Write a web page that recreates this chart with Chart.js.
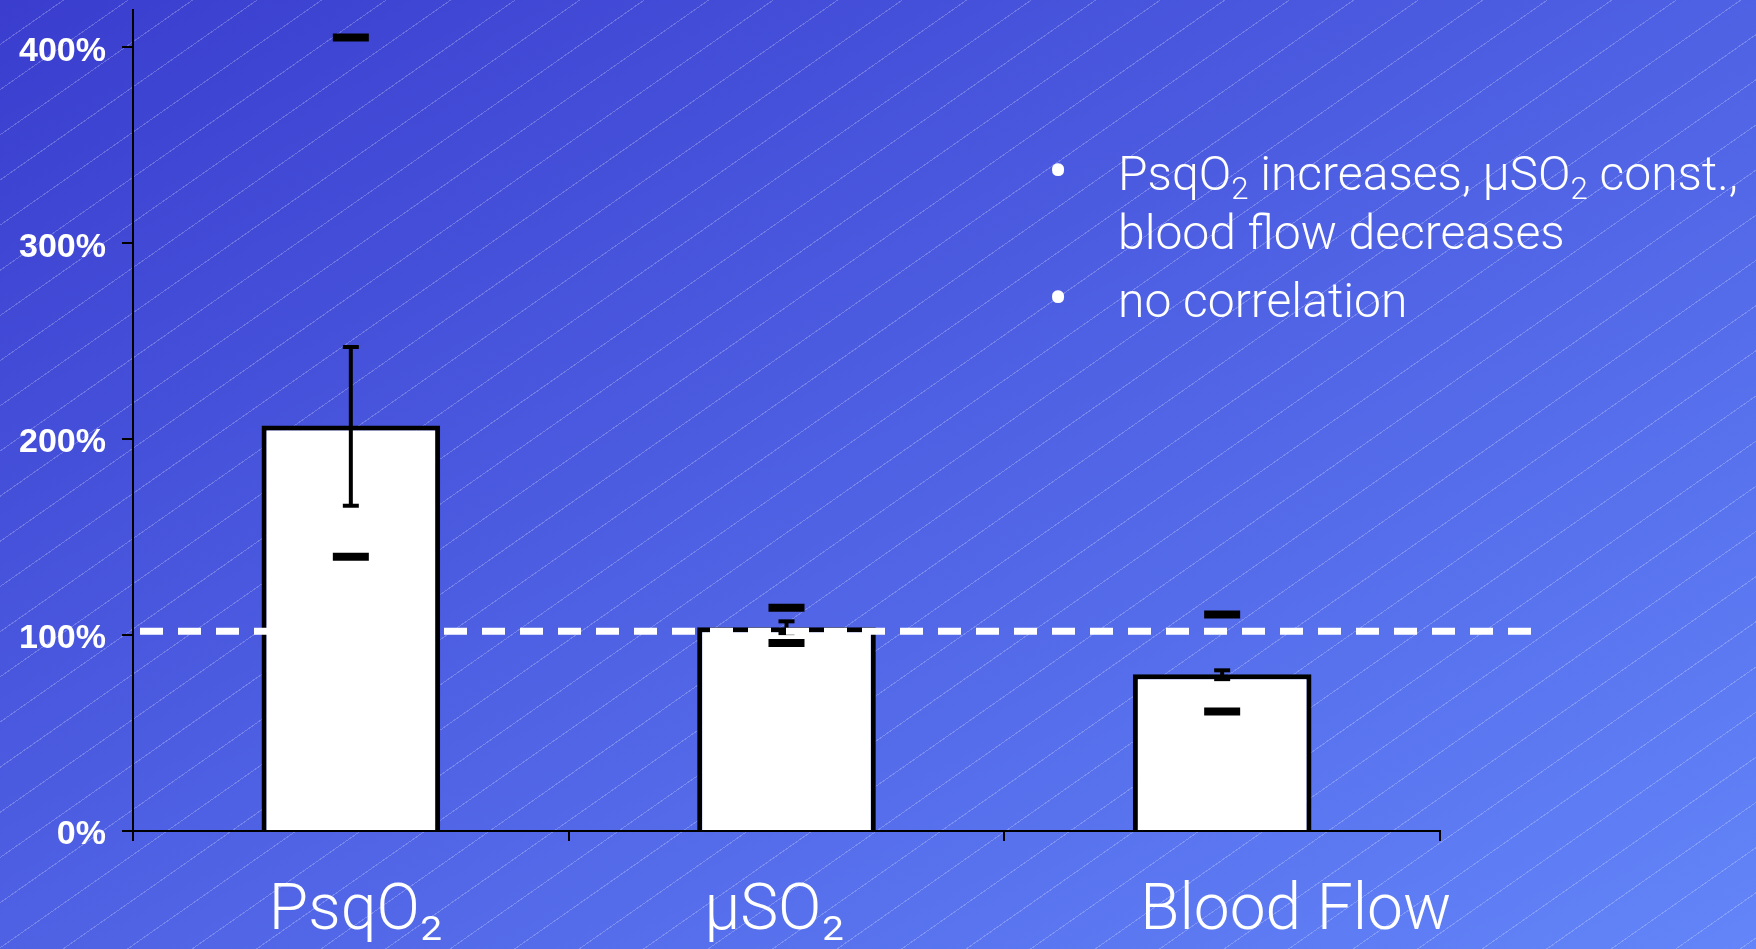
<!DOCTYPE html>
<html>
<head>
<meta charset="utf-8">
<script src="https://cdn.jsdelivr.net/npm/chart.js@4.4.1/dist/chart.umd.min.js"></script>
<style>
  html, body { margin: 0; padding: 0; }
  body {
    width: 1756px; height: 949px; overflow: hidden; position: relative;
    background:
      repeating-linear-gradient(145deg, rgba(255,255,255,0) 0px, rgba(255,255,255,0) 36px,
        rgba(255,255,255,0.22) 36px, rgba(255,255,255,0.22) 37px),
      linear-gradient(to bottom right, #3a3dce, #6385f9);
  }
  #chart { position: absolute; left: 0; top: 0; }
  #notes {
    position: absolute; left: 1118px; top: 144px;
    color: #fff; font-family: Roboto, "Liberation Sans", sans-serif; font-weight: 300;
    font-size: 48px; line-height: 59px; white-space: nowrap;
  }
  #notes .item { position: relative; }
  #notes .item + .item { margin-top: 9px; }
  #notes .dot { position: absolute; left: -70px; top: -2px; font-size: 60px; font-weight: 400; }
  #notes sub { font-size: 0.65em; vertical-align: -0.28em; line-height: 0; }
</style>
</head>
<body>
<canvas id="chart" width="1756" height="949"></canvas>
<div id="notes">
  <div class="item"><span class="dot">•</span>PsqO<sub>2</sub> increases, μSO<sub>2</sub> const.,<br>blood flow decreases</div>
  <div class="item"><span class="dot">•</span>no correlation</div>
</div>
<script>
// Werte (in % vom Ausgangswert)
var categories = ['PsqO₂', 'μSO₂', 'Blood Flow'];
var meanValues = [207, 104, 80];
var errLow = [166, 101, 77.5];
var errHigh = [247, 107, 82];
var upperMarks = [405, 114, 110.5];
var lowerMarks = [140, 96, 61];
var yTicks = [0, 100, 200, 300, 400];
var yMax = 419;
var refLine = 102;

var errRanges = errLow.map(function(v, i){ return [v, errHigh[i]]; });

// gestrichelte Referenzlinie bei ~100 %
var refLinePlugin = {
  id: 'refLine',
  afterDatasetsDraw: function(chart){
    var ctx = chart.ctx;
    var area = chart.chartArea;
    var y = chart.scales.y.getPixelForValue(refLine);
    ctx.save();
    ctx.strokeStyle = '#ffffff';
    ctx.lineWidth = 7;
    ctx.setLineDash([23, 15]);
    ctx.beginPath();
    ctx.moveTo(area.left + 7, y);
    ctx.lineTo(area.right + 106, y);
    ctx.stroke();
    ctx.restore();
  }
};

function markerSet(label, data, radius, width, order){
  return {
    type: 'line',
    label: label,
    data: data,
    showLine: false,
    pointStyle: 'line',
    pointRadius: radius,
    pointBorderWidth: width,
    pointBorderColor: '#000000',
    order: order
  };
}

new Chart(document.getElementById('chart'), {
  type: 'bar',
  data: {
    labels: categories,
    datasets: [{
      label: 'Mittelwert',
      data: meanValues,
      backgroundColor: '#ffffff',
      borderColor: '#000000',
      borderWidth: 5,
      grouped: false,
      categoryPercentage: 1,
      barPercentage: 0.41,
      order: 4
    }, {
      label: 'Fehler',
      data: errRanges,
      backgroundColor: '#000000',
      borderWidth: 0,
      grouped: false,
      categoryPercentage: 1,
      barPercentage: 0.41,
      maxBarThickness: 4,
      order: 3
    },
      markerSet('Fehler oben', errHigh, 8, 4, 2),
      markerSet('Fehler unten', errLow, 8, 4, 2),
      markerSet('Max', upperMarks, 18, 8, 1),
      markerSet('Min', lowerMarks, 18, 8, 1)
    ]
  },
  options: {
    responsive: false,
    animation: false,
    events: [],
    layout: { autoPadding: false, padding: { left: 0, right: 316, top: 10, bottom: 0 } },
    plugins: { legend: { display: false }, tooltip: { enabled: false } },
    scales: {
      x: {
        offset: true,
        afterFit: function(scale){ scale.height = 118; },
        grid: { offset: true, drawOnChartArea: false, color: '#000000', lineWidth: 2, tickLength: 10 },
        border: { color: '#000000', width: 2 },
        ticks: {
          color: '#ffffff',
          padding: 34,
          align: 'start',
          labelOffset: -82,
          font: { family: 'Roboto, "Liberation Sans", sans-serif', weight: 300, size: 64, lineHeight: 1.2 }
        }
      },
      y: {
        min: 0,
        max: yMax,
        afterFit: function(scale){
          scale.width = 133;
          scale.paddingTop = 0;
          scale.paddingBottom = 0;
        },
        afterBuildTicks: function(scale){
          scale.ticks = yTicks.map(function(v){ return { value: v }; });
        },
        grid: { drawOnChartArea: false, color: '#000000', lineWidth: 2, tickLength: 11 },
        border: { color: '#000000', width: 2 },
        ticks: {
          color: '#ffffff',
          padding: 16,
          labelOffset: 4,
          font: { family: '"Liberation Sans", Arial, sans-serif', weight: 'bold', size: 34, lineHeight: 0.5 },
          callback: function(v){ return v + '%'; }
        }
      }
    }
  },
  plugins: [refLinePlugin]
});
</script>
</body>
</html>
